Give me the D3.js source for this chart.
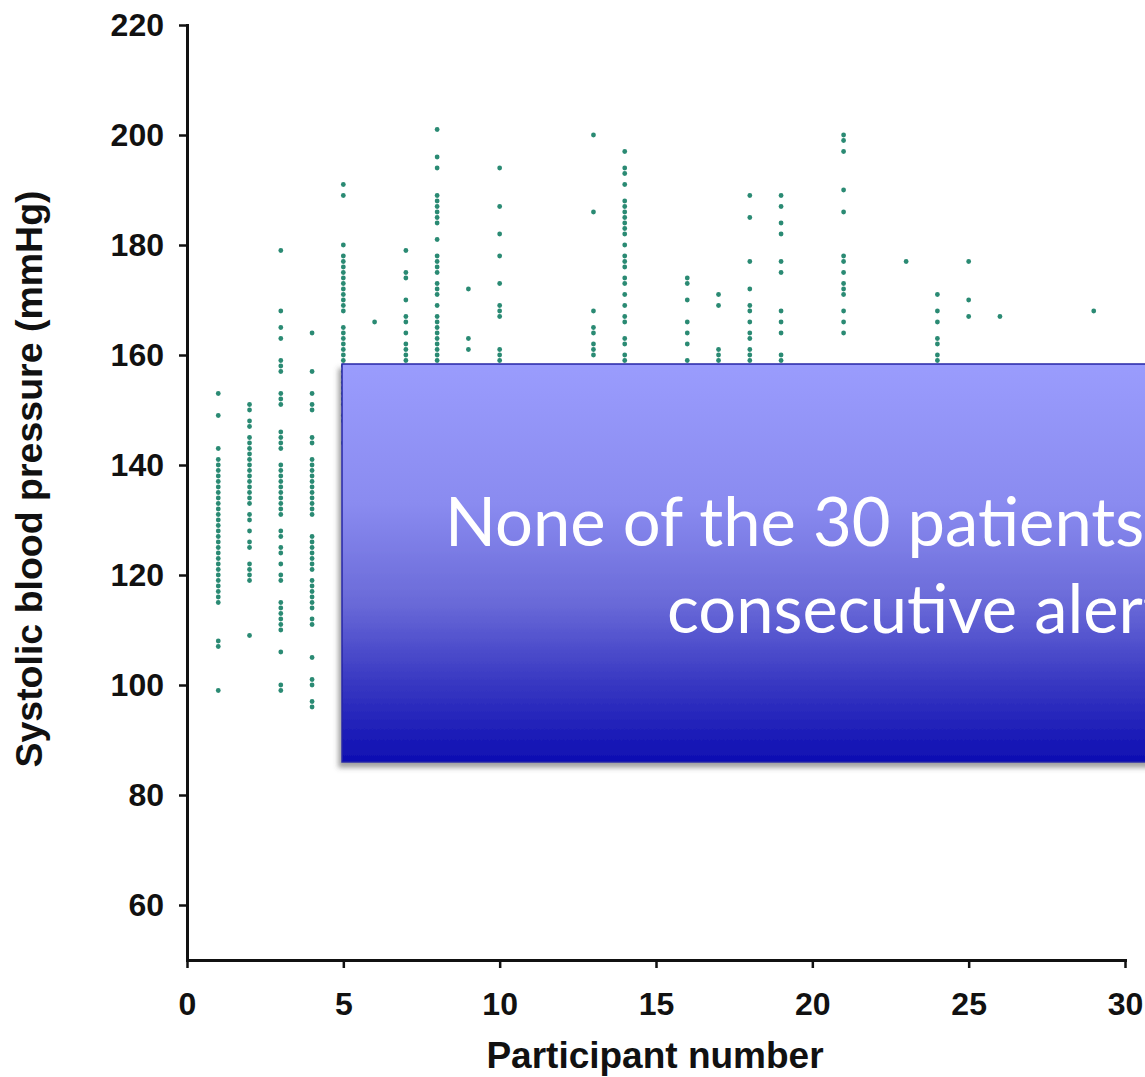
<!DOCTYPE html>
<html><head><meta charset="utf-8">
<script src="https://cdn.jsdelivr.net/npm/d3@7"></script>
<style>body{margin:0;background:#fff} svg{display:block}</style>
</head><body>
<svg id="chart" width="1145" height="1077"></svg>
<script>
// ---- data ----
const participantIds = [1,2,3,4,5,6,7,8,9,10,13,14,16,17,18,19,21,23,24,25,26,29];
const systolicReadings = [
  [153,149,143,141,140,139,138,137,136,135,134,133,132,131,130,129,128,127,126,125,124,123,122,121,120,119,118,117,116,115,108,107,99],
  [151,150,148,147,145,144,143,142,141,140,139,138,137,136,135,134,133,131,130,128,126,125,122,121,120,119,109],
  [179,168,165,163,159,158,157,153,152,151,146,145,144,143,140,139,138,137,136,135,134,133,132,131,128,127,125,124,122,120,119,115,114,113,112,111,110,106,100,99],
  [164,157,153,151,150,145,144,141,140,139,138,137,136,135,134,133,132,131,127,126,125,124,123,122,121,119,118,117,116,115,114,112,111,105,101,100,97,96],
  [191,189,180,178,177,176,175,174,173,172,171,170,169,168,165,164,163,162,161,160,159,158,157,156,155,154,153,152,151,149,148,144],
  [166],
  [179,175,174,170,167,166,164,162,161,160,159],
  [201,196,194,189,188,187,186,185,184,181,178,177,176,175,173,172,171,169,167,166,165,164,163,162,161,160,159],
  [172,163,161],
  [194,187,182,178,173,169,168,167,161,160,159],
  [200,186,168,165,164,162,161,160],
  [197,194,193,191,188,187,186,185,184,183,182,180,178,177,176,174,173,171,169,167,166,163,162,160,159],
  [174,173,170,166,164,162,159],
  [171,169,161,160,159],
  [189,185,177,172,169,168,166,164,163,161,160,159],
  [189,187,184,182,177,175,168,166,164,160,159],
  [200,199,197,190,186,178,177,175,173,172,171,168,166,164],
  [177],
  [171,168,166,163,162,160,159],
  [177,170,167],
  [167],
  [168]
];
const xTickValues = [0,5,10,15,20,25,30];
const yTickValues = [60,80,100,120,140,160,180,200,220];
const xAxisTitle = "Participant number";
const yAxisTitle = "Systolic blood pressure (mmHg)";
const overlayLines = ["None of the 30 patients had three", "consecutive alerts"];

// ---- drawing ----
const svg = d3.select("#chart");
const x = d3.scaleLinear().domain([0, 30]).range([187, 1125]);
const y = d3.scaleLinear().domain([50, 220]).range([960, 25]);

const pts = participantIds.flatMap((p, i) => systolicReadings[i].map(v => ({p, v})));
svg.append("g").selectAll("circle").data(pts).join("circle")
  .attr("cx", d => x(d.p)).attr("cy", d => y(d.v))
  .attr("r", 2.4).attr("fill", "#2a8a73");

const axisFont = "'Liberation Sans', Arial, sans-serif";

const gy = svg.append("g").attr("transform", "translate(187,0)")
  .call(d3.axisLeft(y).tickValues(yTickValues).tickSize(8).tickPadding(15).tickSizeOuter(0));
const gx = svg.append("g").attr("transform", "translate(0,960)")
  .call(d3.axisBottom(x).tickValues(xTickValues).tickSize(8).tickPadding(24).tickSizeOuter(0));

[gy, gx].forEach(g => {
  g.select(".domain").attr("stroke", "#111").attr("stroke-width", 3).attr("stroke-linecap", "square");
  g.selectAll(".tick line").attr("stroke", "#111").attr("stroke-width", 2.5);
  g.selectAll(".tick text").attr("fill", "#111")
    .style("font-family", axisFont).style("font-weight", "bold").style("font-size", "32px");
});

svg.append("text").attr("x", 655).attr("y", 1068).attr("text-anchor", "middle")
  .style("font-family", axisFont).style("font-weight", "bold").style("font-size", "37px")
  .attr("fill", "#111").text(xAxisTitle);

svg.append("text").attr("transform", "translate(42,479) rotate(-90)").attr("text-anchor", "middle")
  .style("font-family", axisFont).style("font-weight", "bold").style("font-size", "37.5px")
  .attr("fill", "#111").text(yAxisTitle);

// ---- overlay box ----
const defs = svg.append("defs");
const grad = defs.append("linearGradient").attr("id", "boxGrad")
  .attr("x1", 0).attr("y1", 0).attr("x2", 0).attr("y2", 1);
[[0, "#9a9cfd"], [0.35, "#8a8bf0"], [0.6, "#6a6ad8"], [0.8, "#3838c2"], [1, "#0e0eb2"]]
  .forEach(([o, c]) => grad.append("stop").attr("offset", o).attr("stop-color", c));
const filt = defs.append("filter").attr("id", "shadow").attr("x", "-5%").attr("y", "-5%").attr("width", "115%").attr("height", "115%");
filt.append("feDropShadow").attr("dx", -3).attr("dy", 5).attr("stdDeviation", 2.5)
  .attr("flood-color", "#555").attr("flood-opacity", 0.55);

const ov = svg.append("g");
ov.append("rect").attr("x", 342).attr("y", 364).attr("width", 840).attr("height", 398)
  .attr("fill", "url(#boxGrad)").attr("stroke", "#2626a6").attr("stroke-width", 1.5)
  .attr("filter", "url(#shadow)");

const ovFont = "Lato, 'Open Sans', sans-serif";
const l1 = ov.append("text").attr("x", 445).attr("y", 546).attr("fill", "#fff")
  .style("font-family", ovFont).style("font-size", "100px").text(overlayLines[0]);
const l2 = ov.append("text").attr("x", 667).attr("y", 633).attr("fill", "#fff")
  .style("font-family", ovFont).style("font-size", "100px").text(overlayLines[1]);
const w = l2.node().getSubStringLength(0, 16);
const fs = 100 * 476 / w;
l1.style("font-size", fs + "px");
l2.style("font-size", fs + "px");
</script>
</body></html>
